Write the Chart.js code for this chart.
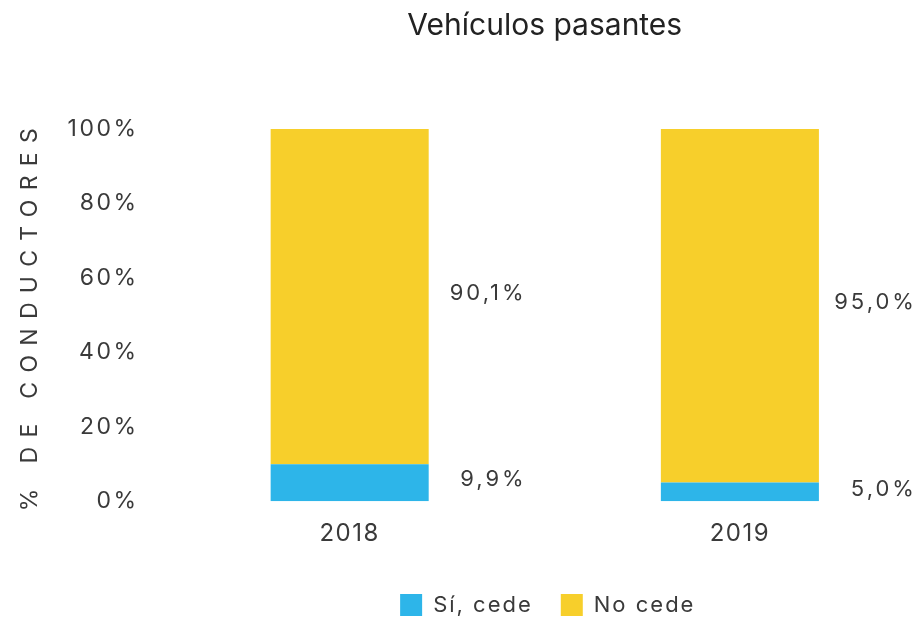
<!DOCTYPE html>
<html>
<head>
<meta charset="utf-8">
<script src="https://cdn.jsdelivr.net/npm/chart.js@4.4.1/dist/chart.umd.min.js"></script>
<style>
  html, body { margin: 0; padding: 0; background: #fff; overflow: hidden; }
  #wrap { width: 935px; height: 620px; }
</style>
</head>
<body>
<div id="wrap"><canvas id="c" width="935" height="620"></canvas></div>
<script>
const categories = ['2018', '2019'];
const siCede = [9.9, 5.0];
const noCede = [90.1, 95.0];
const seriesNames = ['Sí, cede', 'No cede'];
const yTickValues = [0, 20, 40, 60, 80, 100];
const chartTitle = 'Vehículos pasantes';
const yAxisTitle = '% DE CONDUCTORES';

const BLUE = '#2DB5E9';
const YELLOW = '#F7CF2B';
const TEXT = '#3a3a3a';
const FONT = 'Inter, Roboto, sans-serif';

function fmt(v) { return v.toFixed(1).replace('.', ',') + '%'; }

// letter spacing per element
const spacingPlugin = {
  id: 'spacing',
  beforeDraw(chart) {
    const ctx = chart.ctx;
    chart.boxes.forEach(box => {
      if (box._wrapped) return;
      box._wrapped = true;
      if (box.id === 'y') {
        const dl = box.drawLabels.bind(box);
        box.drawLabels = function (a) { ctx.save(); ctx.letterSpacing = '2.5px'; dl(a); ctx.restore(); };
        const dt = box.drawTitle.bind(box);
        box.drawTitle = function (a) { ctx.save(); ctx.letterSpacing = '9.3px'; dt(a); ctx.restore(); };
      } else if (box.id === 'x') {
        const dl = box.drawLabels.bind(box);
        box.drawLabels = function (a) { ctx.save(); ctx.letterSpacing = '1.5px'; dl(a); ctx.restore(); };
      } else if (box.options && box.options.labels) {
        const d = box.draw.bind(box);
        box.draw = function (a) { ctx.save(); ctx.letterSpacing = '2px'; ctx.translate(-12, 0); d(a); ctx.restore(); };
      }
    });
  }
};

const valueLabels = {
  id: 'valueLabels',
  afterDatasetsDraw(chart) {
    const ctx = chart.ctx;
    ctx.save();
    ctx.letterSpacing = '3px';
    ctx.font = '22px ' + FONT;
    ctx.fillStyle = TEXT;
    ctx.textAlign = 'right';
    ctx.textBaseline = 'middle';
    chart.data.datasets.forEach((ds, di) => {
      const meta = chart.getDatasetMeta(di);
      meta.data.forEach((bar, i) => {
        const cy = (bar.y + bar.base) / 2 - 3;
        ctx.fillText(fmt(ds.data[i]), bar.x + 177, cy);
      });
    });
    ctx.restore();
  }
};

new Chart(document.getElementById('c'), {
  type: 'bar',
  data: {
    labels: categories,
    datasets: [
      { label: seriesNames[0], data: siCede, backgroundColor: BLUE, borderWidth: 0 },
      { label: seriesNames[1], data: noCede, backgroundColor: YELLOW, borderWidth: 0 }
    ]
  },
  options: {
    responsive: false,
    animation: false,
    devicePixelRatio: 1,
    layout: { padding: { left: 6, right: 0, top: 0, bottom: -6 } },
    datasets: { bar: { categoryPercentage: 1.0, barPercentage: 0.405 } },
    scales: {
      x: {
        stacked: true,
        grid: { display: false },
        border: { display: false },
        ticks: { color: TEXT, font: { family: FONT, size: 24 }, padding: 10 },
        afterFit(scale) { scale.height += 8; }
      },
      y: {
        stacked: true,
        min: 0, max: 100,
        afterBuildTicks(scale) { scale.ticks = yTickValues.map(v => ({ value: v })); },
        grid: { display: false },
        border: { display: false },
        ticks: { color: TEXT, font: { family: FONT, size: 23 }, padding: 8, callback: v => v + '%' },
        title: { display: true, text: yAxisTitle, color: TEXT, font: { family: FONT, size: 23 }, padding: { top: 10, bottom: 26 } }
      }
    },
    plugins: {
      title: { display: true, fullSize: false, text: chartTitle, color: '#222', font: { family: FONT, size: 30, weight: 'normal' }, padding: { top: 8, bottom: 85 } },
      legend: {
        position: 'bottom',
        fullSize: false,
        labels: { color: TEXT, font: { family: FONT, size: 22 }, boxWidth: 22, boxHeight: 22, padding: 28 }
      },
      tooltip: { enabled: false }
    }
  },
  plugins: [spacingPlugin, valueLabels]
});
</script>
</body>
</html>
